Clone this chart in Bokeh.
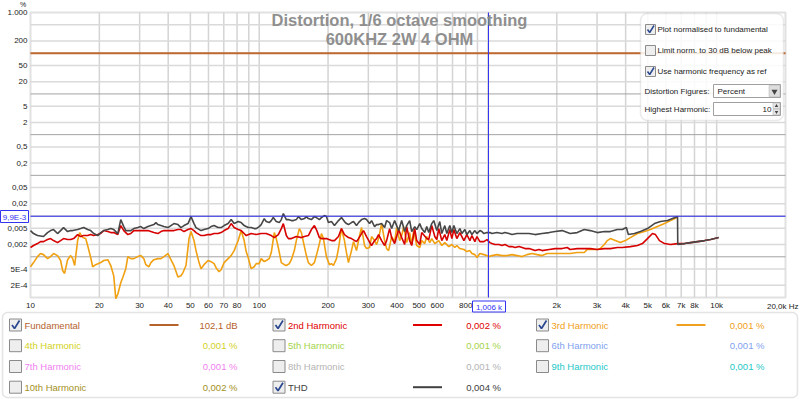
import math
from bokeh.plotting import figure
from bokeh.models import (Range1d, FixedTicker, LogAxis, BoxAnnotation, LinearScale,
                          GlobalInlineStyleSheet)
from bokeh.embed import file_html
from bokeh.resources import INLINE
from bokeh.core.properties import value

# ---------------- data ----------------
title_lines = ["Distortion, 1/6 octave smoothing", "600KHZ 2W 4 OHM"]

fund_freq = [10, 20000]
fund_pct = [100, 100]

thd_freq = [10, 10.31, 10.73, 11.40, 11.87, 12.24, 12.61, 13.13, 13.54, 13.95, 14.53, 14.98, 15.29, 16.07, 16.57,
            17.08, 17.78, 18.33, 18.89, 19.67, 20.28, 20.90, 21.77, 22.44, 23.12, 24.08, 24.81, 25.58, 26.10, 27.45,
            28.29, 29.46, 30.37, 31.30, 32.60, 33.60, 34.63, 35.34, 36.06, 37.17, 38.31, 39.89, 41.11, 42.38, 44.12,
            45.48, 46.90, 48.83, 50.33, 51.87, 52.93, 55.67, 57.38, 59.74, 61.58, 63.47, 66.10, 68.13, 70.24, 73.11,
            75.40, 77.71, 79.29, 80.91, 83.40, 85.95, 89.46, 92.24, 95.08, 97.0, 100, 102.0, 105.2, 107.3, 110.6,
            112.9, 115.2, 118.7, 122.4, 124.9, 127.5, 131.4, 134.1, 138.2, 141.0, 145.3, 148.3, 152.9, 157.6, 160.8,
            164.0, 169.1, 174.3, 177.8, 183.3, 187.1, 192.8, 196.7, 200.7, 206.9, 213.3, 222.1, 228.9, 235.9, 240.7,
            245.6, 253.2, 258.4, 266.3, 271.8, 280.2, 288.8, 294.6, 303.7, 309.9, 319.4, 326.0, 332.6, 342.8, 353.4,
            360.6, 371.7, 379.3, 390.9, 407.1, 419.6, 432.5, 441.3, 454.8, 464.2, 478.5, 488.3, 503.3, 513.5, 529.3,
            540.1, 551.1, 568.0, 579.8, 597.5, 615.8, 628.4, 647.6, 661.0, 681.3, 695.3, 709.6, 731.1, 753.8, 769.1,
            792.8, 808.9, 833.8, 850.9, 877.0, 894.9, 922.4, 941.2, 960.5, 990, 1020, 1041, 1095, 1152, 1187,
            1236, 1274, 1341, 1410, 1513, 1607, 1725, 1852, 1967, 2111, 2288, 2457, 2637, 2802, 3007,
            3227, 3428, 3680, 3869, 4030, 4111, 4370, 4642, 4983, 5348, 5681, 6098, 6412, 6745, 6760,
            7238, 7691, 8254, 8858, 9412, 10205]
thd_pct = [0.00440, 0.00372, 0.00332, 0.00314, 0.00393, 0.00440, 0.00466, 0.00372, 0.00440, 0.00522, 0.00416, 0.00440, 0.00440, 0.00466, 0.00493,
           0.00522, 0.00466, 0.00440, 0.00372, 0.00332, 0.00393, 0.00440, 0.00466, 0.00493, 0.00466, 0.00372, 0.00820, 0.00552, 0.00440, 0.00440,
           0.00493, 0.00522, 0.00552, 0.00493, 0.00552, 0.00584, 0.00618, 0.00692, 0.00618, 0.00584, 0.00552, 0.00522, 0.00584, 0.00654, 0.00618,
           0.00522, 0.00584, 0.00654, 0.00972, 0.00654, 0.00522, 0.00440, 0.00466, 0.00493, 0.00552, 0.00584, 0.00522, 0.00522, 0.00584, 0.00654,
           0.00820, 0.00654, 0.00692, 0.00733, 0.00692, 0.00584, 0.00522, 0.00522, 0.00493, 0.00493, 0.00552, 0.00618, 0.00868, 0.00733, 0.00692,
           0.00775, 0.00919, 0.00733, 0.00692, 0.00820, 0.01152, 0.00820, 0.00820, 0.00775, 0.00775, 0.00820, 0.00972, 0.00820, 0.00868, 0.00972,
           0.00868, 0.00820, 0.00972, 0.00919, 0.00820, 0.00919, 0.01029, 0.00972, 0.00692, 0.00733, 0.00584, 0.00775, 0.00919, 0.00733, 0.00654,
           0.00618, 0.00692, 0.00733, 0.00584, 0.00692, 0.00820, 0.00868, 0.00820, 0.00654, 0.00775, 0.00552, 0.00618, 0.00618, 0.00654, 0.00522,
           0.00775, 0.00692, 0.00493, 0.00775, 0.00440, 0.00775, 0.00416, 0.00584, 0.00775, 0.00416, 0.00552, 0.00466, 0.00654, 0.00493, 0.00393,
           0.00552, 0.00393, 0.00654, 0.00775, 0.00440, 0.00733, 0.00372, 0.00584, 0.00372, 0.00584, 0.00393, 0.00584, 0.00372, 0.00493, 0.00372,
           0.00466, 0.00351, 0.00440, 0.00351, 0.00440, 0.00372, 0.00440, 0.00416, 0.00372, 0.00393, 0.00393, 0.00372, 0.00393, 0.00372, 0.00393,
           0.00372, 0.00351, 0.00372, 0.00372, 0.00372, 0.00351, 0.00372, 0.00393, 0.00416, 0.00440, 0.00372, 0.00393, 0.00466, 0.00440, 0.00393,
           0.00416, 0.00416, 0.00466, 0.00466, 0.00522, 0.00351, 0.00372, 0.00416, 0.00493, 0.00654, 0.00733, 0.00775, 0.00868, 0.00972, 0.00200,
           0.00211, 0.00223, 0.00236, 0.00250, 0.00265, 0.00296]

h2_freq = [10, 10.31, 10.73, 11.06, 11.40, 11.87, 12.24, 12.61, 13.13, 13.54, 13.95, 14.53, 14.98, 15.44, 16.07,
           16.57, 17.08, 17.78, 18.33, 18.89, 19.67, 20.28, 20.90, 21.77, 22.44, 23.12, 24.08, 24.81, 25.58, 26.64,
           27.45, 28.29, 29.46, 30.37, 31.30, 32.60, 33.60, 34.63, 36.06, 37.17, 38.31, 39.89, 41.11, 42.38, 44.12,
           45.48, 46.90, 48.83, 50.33, 51.87, 52.93, 55.67, 57.38, 59.74, 61.58, 63.47, 66.10, 68.13, 70.24, 73.11,
           75.40, 77.71, 79.29, 80.91, 83.40, 85.95, 87.70, 92.24, 97.0, 102.0, 107.3, 112.9, 116.4, 121.2, 124.9,
           127.5, 131.4, 134.1, 138.2, 145.3, 152.9, 157.6, 164.0, 169.1, 174.3, 177.8, 183.3, 187.1, 196.7, 206.9,
           213.3, 222.1, 228.9, 235.9, 245.6, 253.2, 266.3, 271.8, 280.2, 285.9, 294.6, 309.9, 319.4, 326.0, 332.6,
           342.8, 353.4, 360.6, 371.7, 379.3, 390.9, 407.1, 419.6, 432.5, 441.3, 454.8, 464.2, 478.5, 488.3, 503.3,
           513.5, 540.1, 551.1, 568.0, 585.6, 597.5, 609.8, 628.4, 647.6, 661.0, 681.3, 695.3, 709.6, 731.1, 753.8,
           784.9, 808.9, 833.8, 850.9, 877.0, 894.9, 922.4, 960.5, 990, 1020, 1041, 1073, 1118, 1152, 1187,
           1236, 1274, 1314, 1368, 1410, 1453, 1513, 1560, 1607, 1674, 1725, 1852, 1967, 2111, 2221,
           2288, 2457, 2637, 2802, 3007, 3227, 3428, 3680, 3869, 4195, 4504, 4737, 4983, 5241, 5401,
           5623, 5916, 6284, 6745, 7238, 7691, 8254, 8858, 9412, 10205]
h2_pct = [0.00169, 0.00189, 0.00211, 0.00236, 0.00236, 0.00265, 0.00280, 0.00250, 0.00223, 0.00250, 0.00280, 0.00265, 0.00265, 0.00280, 0.00351,
          0.00314, 0.00332, 0.00332, 0.00351, 0.00332, 0.00351, 0.00372, 0.00440, 0.00416, 0.00393, 0.00393, 0.00351, 0.00584, 0.00440, 0.00351,
          0.00372, 0.00440, 0.00440, 0.00440, 0.00440, 0.00440, 0.00416, 0.00393, 0.00372, 0.00416, 0.00440, 0.00440, 0.00440, 0.00440, 0.00466,
          0.00466, 0.00416, 0.00466, 0.00493, 0.00440, 0.00393, 0.00332, 0.00332, 0.00351, 0.00351, 0.00372, 0.00372, 0.00393, 0.00440, 0.00493,
          0.00654, 0.00522, 0.00493, 0.00466, 0.00440, 0.00372, 0.00332, 0.00372, 0.00351, 0.00372, 0.00372, 0.00332, 0.00296, 0.00351, 0.00493,
          0.00654, 0.00332, 0.00280, 0.00280, 0.00314, 0.00296, 0.00314, 0.00332, 0.00466, 0.00584, 0.00466, 0.00296, 0.00280, 0.00280, 0.00250,
          0.00250, 0.00314, 0.00493, 0.00351, 0.00296, 0.00280, 0.00236, 0.00280, 0.00372, 0.00440, 0.00314, 0.00189, 0.00250, 0.00280, 0.00351,
          0.00250, 0.00189, 0.00250, 0.00493, 0.00296, 0.00211, 0.00466, 0.00296, 0.00200, 0.00552, 0.00250, 0.00189, 0.00493, 0.00250, 0.00200,
          0.00393, 0.00280, 0.00265, 0.00584, 0.00314, 0.00265, 0.00493, 0.00250, 0.00351, 0.00250, 0.00466, 0.00280, 0.00466, 0.00280, 0.00393,
          0.00250, 0.00351, 0.00250, 0.00332, 0.00236, 0.00314, 0.00236, 0.00236, 0.00265, 0.00223, 0.00211, 0.00200, 0.00200, 0.00189, 0.00200,
          0.00178, 0.00178, 0.00169, 0.00178, 0.00169, 0.00159, 0.00159, 0.00151, 0.00142, 0.00151, 0.00142, 0.00151, 0.00159, 0.00159, 0.00169,
          0.00151, 0.00159, 0.00159, 0.00159, 0.00151, 0.00159, 0.00159, 0.00169, 0.00169, 0.00178, 0.00189, 0.00211, 0.00280, 0.00372, 0.00351,
          0.00250, 0.00211, 0.00200, 0.00211, 0.00211, 0.00223, 0.00236, 0.00250, 0.00265, 0.00296]

h3_freq = [10, 10.31, 10.73, 11.06, 11.40, 11.87, 12.24, 12.61, 13.13, 13.54, 13.82, 14.10, 14.53, 14.98, 15.29,
           15.60, 16.07, 16.40, 16.91, 17.43, 17.78, 18.33, 18.70, 19.28, 20.28, 20.90, 21.77, 22.44, 23.12, 23.60,
           24.08, 24.81, 25.32, 26.10, 26.64, 27.45, 28.29, 29.46, 30.37, 31.30, 31.94, 32.93, 33.60, 34.63, 36.06,
           37.17, 38.31, 39.89, 41.11, 42.38, 44.12, 45.48, 46.42, 47.85, 49.32, 50.33, 51.87, 52.93, 54.56, 55.67,
           57.38, 59.74, 61.58, 63.47, 64.76, 66.75, 68.13, 70.24, 73.11, 75.40, 77.71, 79.29, 80.91, 83.40, 85.95,
           87.70, 89.46, 92.24, 95.08, 97.0, 100, 102.0, 105.2, 107.3, 110.6, 112.9, 116.4, 118.7, 121.2, 124.9,
           128.8, 131.4, 135.4, 138.2, 142.4, 145.3, 149.8, 152.9, 157.6, 160.8, 164.0, 169.1, 174.3, 177.8, 183.3,
           187.1, 190.9, 196.7, 202.8, 206.9, 211.1, 217.7, 222.1, 228.9, 235.9, 240.7, 245.6, 253.2, 258.4, 266.3,
           274.6, 280.2, 288.8, 294.6, 303.7, 309.9, 319.4, 326.0, 332.6, 342.8, 353.4, 360.6, 368.0, 379.3, 390.9,
           398.9, 411.3, 419.6, 428.2, 441.3, 454.8, 464.2, 473.6, 488.3, 503.3, 513.5, 529.3, 540.1, 556.7, 568.0,
           585.6, 609.8, 628.4, 647.6, 674.5, 695.3, 716.6, 731.1, 753.8, 784.9, 808.9, 833.8, 850.9, 877.0, 894.9,
           922.4, 960.5, 990, 1010, 1041, 1095, 1152, 1212, 1274, 1341, 1410, 1483, 1560, 1640, 1725,
           1815, 1909, 2007, 2111, 2288, 2457, 2637, 2718, 2858, 3007, 3099, 3227, 3326, 3428, 3606,
           3793, 3990, 4195, 4504, 4834, 5135, 5511, 5916, 6284, 6745]
h3_pct = [0.00057, 0.00072, 0.00101, 0.00120, 0.00113, 0.00090, 0.00101, 0.00120, 0.00107, 0.00081, 0.00046, 0.00039, 0.00085, 0.00107, 0.00090,
          0.00061, 0.00250, 0.00393, 0.00296, 0.00280, 0.00189, 0.00096, 0.00057, 0.00064, 0.00072, 0.00081, 0.00085, 0.00061, 0.00034, 0.000094,
          0.00012, 0.00023, 0.00031, 0.00051, 0.00101, 0.00090, 0.00090, 0.00101, 0.00107, 0.00090, 0.00064, 0.00057, 0.00072, 0.00085, 0.00090,
          0.00090, 0.00101, 0.00120, 0.00085, 0.00061, 0.00032, 0.00034, 0.00041, 0.00061, 0.00280, 0.00416, 0.00250, 0.00142, 0.00072, 0.00051,
          0.00064, 0.00081, 0.00076, 0.00068, 0.00054, 0.00043, 0.00048, 0.00072, 0.00090, 0.00107, 0.00142, 0.00189, 0.00250, 0.00440, 0.00250,
          0.00134, 0.00096, 0.00051, 0.00057, 0.00068, 0.00068, 0.00090, 0.00076, 0.00081, 0.00090, 0.00127, 0.00393, 0.00280, 0.00169, 0.00072,
          0.00064, 0.00061, 0.00068, 0.00085, 0.00142, 0.00250, 0.00493, 0.00393, 0.00178, 0.00107, 0.00072, 0.00061, 0.00072, 0.00107, 0.00211,
          0.00372, 0.00280, 0.00101, 0.00064, 0.00068, 0.00061, 0.00090, 0.00159, 0.00493, 0.00250, 0.00127, 0.00072, 0.00142, 0.00236, 0.00142,
          0.00332, 0.00522, 0.00189, 0.00159, 0.00169, 0.00314, 0.00250, 0.00200, 0.00280, 0.00654, 0.00250, 0.00159, 0.00142, 0.00314, 0.00236,
          0.00522, 0.00250, 0.00332, 0.00552, 0.00223, 0.00393, 0.00200, 0.00440, 0.00189, 0.00169, 0.00250, 0.00211, 0.00314, 0.00223, 0.00280,
          0.00211, 0.00250, 0.00189, 0.00223, 0.00178, 0.00200, 0.00169, 0.00189, 0.00159, 0.00151, 0.00134, 0.00142, 0.00120, 0.00113, 0.00096,
          0.00120, 0.00113, 0.00107, 0.00101, 0.00107, 0.00113, 0.00107, 0.00107, 0.00113, 0.00107, 0.00101, 0.00113, 0.00120, 0.00113, 0.00107,
          0.00120, 0.00120, 0.00120, 0.00120, 0.00120, 0.00127, 0.00127, 0.00151, 0.00151, 0.00151, 0.00159, 0.00200, 0.00250, 0.00280, 0.00250,
          0.00223, 0.00250, 0.00296, 0.00372, 0.00416, 0.00466, 0.00552, 0.00654, 0.00775, 0.00940]

cursor_freq = 1006
cursor_pct = 0.0099
cursor_freq_label = "1,006 k"
cursor_pct_label = "9,9E-3"

x_ticks = [10, 20, 30, 40, 50, 60, 70, 80, 100, 200, 300, 400, 500, 600, 800,
           2000, 3000, 4000, 5000, 6000, 7000, 8000, 10000]
x_tick_labels = ["10", "20", "30", "40", "50", "60", "70", "80", "100", "200", "300", "400", "500", "600", "800",
                 "2k", "3k", "4k", "5k", "6k", "7k", "8k", "10k"]
x_grid = [20, 30, 40, 50, 60, 70, 80, 90, 100, 200, 300, 400, 500, 600, 700, 800, 900, 1000,
          2000, 3000, 4000, 5000, 6000, 7000, 8000, 9000, 10000]
y_ticks = [1000, 200, 50, 20, 5, 2, 0.5, 0.2, 0.05, 0.02, 0.005, 0.002, 0.0005, 0.0002]
y_tick_labels = ["1.000", "200", "50", "20", "5", "2", "0,5", "0,2", "0,05", "0,02", "0,005", "0,002", "5E-4", "2E-4"]
y_decades = [100, 10, 1, 0.1, 0.01, 0.001]
y_minor = [500, 200, 50, 20, 5, 2, 0.5, 0.2, 0.05, 0.02, 0.005, 0.002, 0.0005, 0.0002]
x_limits = (10, 20000)
y_limits = (1e-4, 1000)
x_end_label = "20,0k Hz"
y_unit_label = "%"

leg_names = ["Fundamental", "2nd Harmonic", "3rd Harmonic", "4th Harmonic", "5th Harmonic", "6th Harmonic",
             "7th Harmonic", "8th Harmonic", "9th Harmonic", "10th Harmonic", "THD"]
leg_values = ["102,1 dB", "0,002 %", "0,001 %", "0,001 %", "0,001 %", "0,001 %",
              "0,001 %", "0,001 %", "0,001 %", "0,002 %", "0,004 %"]
leg_colors = ["#b5622c", "#e00000", "#f0a020", "#d2d21c", "#a4d44a", "#7f9ff0",
              "#f07ff0", "#b4b4b4", "#1ec8c8", "#a39023", "#404040"]
leg_checked = [True, True, True, False, False, False, False, False, False, False, True]

panel_opts = ["Plot normalised to fundamental", "Limit norm. to 30 dB below peak", "Use harmonic frequency as ref"]
panel_checked = [True, False, True]
panel_fields = ["Distortion Figures:", "Highest Harmonic:"]
panel_field_values = ["Percent", "10"]

# ---------------- layout constants ----------------
W, H = 800, 399
FL, FR, FT, FB = 30, 785, 12, 297          # chart area inside the canvas
FONT = value("Liberation Sans")
C_FUND, C_H2, C_H3, C_THD = "#c0692f", "#d60000", "#f0a010", "#474747"
CHECK = "#2a4890"
BLUE = "#3333f2"

x0, x1 = x_limits
y0, y1 = y_limits
dx = (FR - FL) / math.log10(x1 / x0)
dy = (FB - FT) / math.log10(y1 / y0)
x_range = Range1d(x0 / 10 ** (FL / dx), x1 * 10 ** ((W - FR) / dx))
y_range = Range1d(y0 / 10 ** ((H - FB) / dy), y1 * 10 ** (FT / dy))

p = figure(width=W, height=H, x_axis_type="log", y_axis_type="log",
           x_axis_location=None, y_axis_location=None,
           x_range=x_range, y_range=y_range, min_border=0, title=None,
           output_backend="svg", toolbar_location=None,
           background_fill_color="white", border_fill_color="white")
p.outline_line_color = None
p.xgrid.visible = False
p.ygrid.visible = False
p.extra_x_ranges = {"px": Range1d(0, W)}
p.extra_y_ranges = {"px": Range1d(H, 0)}
p.extra_x_scales = {"px": LinearScale()}
p.extra_y_scales = {"px": LinearScale()}
PX = dict(x_range_name="px", y_range_name="px")

# ---- grid lines (data coordinates) ----
p.segment(x0=x_grid, x1=x_grid, y0=[y0] * len(x_grid), y1=[y1] * len(x_grid),
          line_color="#d4d4d4", line_width=1.5)
p.segment(x0=[x0] * len(y_minor), x1=[x1] * len(y_minor), y0=y_minor, y1=y_minor,
          line_color="#dadada", line_width=1.5)
p.segment(x0=[x0] * len(y_decades), x1=[x1] * len(y_decades), y0=y_decades, y1=y_decades,
          line_color="#a4a4a4", line_width=1)

# ---- axes (real Bokeh axes pinned to the chart edges) ----
xax = LogAxis(ticker=FixedTicker(ticks=x_ticks), fixed_location=y0)
yax = LogAxis(ticker=FixedTicker(ticks=y_ticks), fixed_location=x0)
for ax in (xax, yax):
    ax.axis_line_color = None
    ax.major_tick_line_color = None
    ax.minor_tick_line_color = None
    ax.major_tick_out = 0
    ax.major_tick_in = 0
    ax.minor_tick_out = 0
    ax.minor_tick_in = 0
    ax.major_label_standoff = 3
    ax.major_label_text_font = "Liberation Sans"
    ax.major_label_text_font_size = "8px"
    ax.major_label_text_color = "#222222"
xax.major_label_overrides = dict(zip(x_ticks, x_tick_labels))
yax.major_label_overrides = dict(zip(y_ticks, y_tick_labels))
p.add_layout(xax, "below")
p.add_layout(yax, "left")

# ---- chart border ----
p.add_layout(BoxAnnotation(left=x0, right=x1, bottom=y0, top=y1, fill_color=None,
                           line_color="#9c9c9c", line_width=2, level="underlay"))

# ---- series ----
p.line(fund_freq, fund_pct, line_color=C_FUND, line_width=2)
p.line(h3_freq, h3_pct, line_color=C_H3, line_width=1.6)
p.line(h2_freq, h2_pct, line_color=C_H2, line_width=1.6)
p.line(thd_freq, thd_pct, line_color=C_THD, line_width=1.6)

# ---- cursor ----
p.segment(x0=[cursor_freq], x1=[cursor_freq], y0=[y0], y1=[y1], line_color=BLUE, line_width=1)
p.segment(x0=[x0], x1=[x1], y0=[cursor_pct], y1=[cursor_pct], line_color=BLUE, line_width=1)
p.rect(x=[14, 488.5], y=[216, 306], width=[28, 33], height=[12, 11], fill_color="white",
       line_color=BLUE, line_width=1, level="overlay", **PX)
p.text(x=[14, 488.5], y=[216.5, 306.5], text=[cursor_pct_label, cursor_freq_label], text_align="center",
       text_baseline="middle", text_font=FONT, text_font_size="8px", text_color=BLUE, level="overlay", **PX)

# unit labels
p.text(x=[22.5], y=[4], text=[y_unit_label], text_align="center", text_baseline="middle",
       text_font=FONT, text_font_size="7px", text_color="#222222", **PX)
p.text(x=[798], y=[306], text=[x_end_label], text_align="right", text_baseline="middle",
       text_font=FONT, text_font_size="8px", text_color="#222222", **PX)

# ---- chart title ----
p.text(x=[399, 399], y=[19, 38], text=title_lines, text_align="center", text_baseline="middle",
       text_font=FONT, text_font_size="16.5px", text_font_style="bold", text_color="#8f8f8f", **PX)

# ---- options panel (top right) ----
p.add_layout(BoxAnnotation(left=640, right=783, top=13, bottom=120, fill_color="white", fill_alpha=0.86,
                           line_color="#b8b8b8", line_width=1.5, border_radius=7, **PX))
opt_y = [29, 50, 71]
p.rect(x=[650] * 3, y=opt_y, width=10, height=10, fill_color="#eeeeee", line_color="#8d8d8d",
       line_width=1, level="overlay", **PX)
cx = [650 for c in panel_checked if c]
cy = [yy for yy, c in zip(opt_y, panel_checked) if c]
p.multi_line(xs=[[x - 3, x - 0.8, x + 3.5] for x in cx], ys=[[y, y + 3, y - 4] for y in cy],
             line_color=CHECK, line_width=1.5, level="overlay", **PX)
p.text(x=[657] * 3, y=opt_y, text=panel_opts, text_align="left", text_baseline="middle",
       text_font=FONT, text_font_size="8px", text_color="#222222", level="overlay", **PX)
p.text(x=[644, 644], y=[90.5, 108.5], text=panel_fields, text_align="left", text_baseline="middle",
       text_font=FONT, text_font_size="8px", text_color="#222222", level="overlay", **PX)
p.rect(x=[746.5, 746.5], y=[90.5, 108.5], width=67, height=13, fill_color="white",
       line_color="#a0a0a0", line_width=1, level="overlay", **PX)
p.rect(x=[774], y=[90.5], width=11, height=11, fill_color="#dddddd", line_color="#b0b0b0",
       line_width=0.5, level="overlay", **PX)
p.scatter(x=[774], y=[91], marker="inverted_triangle", size=6, fill_color="#444444",
          line_color=None, level="overlay", **PX)
p.rect(x=[776, 776], y=[105.2, 111.6], width=7, height=5.6, fill_color="#e6e6e6",
       line_color="#a8a8a8", line_width=0.5, level="overlay", **PX)
p.scatter(x=[776], y=[105.4], marker="triangle", size=3.5, fill_color="#444444",
          line_color=None, level="overlay", **PX)
p.scatter(x=[776], y=[111.6], marker="inverted_triangle", size=3.5, fill_color="#444444",
          line_color=None, level="overlay", **PX)
p.text(x=[717], y=[90.5], text=[panel_field_values[0]], text_align="left", text_baseline="middle",
       text_font=FONT, text_font_size="8px", text_color="#222222", level="overlay", **PX)
p.text(x=[771], y=[108.5], text=[panel_field_values[1]], text_align="right", text_baseline="middle",
       text_font=FONT, text_font_size="8px", text_color="#222222", level="overlay", **PX)

# ---- legend strip ----
p.add_layout(BoxAnnotation(left=2, right=797, top=312, bottom=397, fill_color="white",
                           line_color="#a4a4a4", line_width=1.5, border_radius=5, level="underlay", **PX))
col_off = [0, 263.5, 527]
row_y = [324.5, 345.2, 366, 386.7]
bx, by, nx, vx, lx0, lx1, lcol, ccx, ccy = [], [], [], [], [], [], [], [], []
for i, name in enumerate(leg_names):
    r, c = divmod(i, 3)
    off, yy = col_off[c], row_y[r]
    bx.append(15 + off); by.append(yy)
    nx.append(24 + off)
    vx.append(237 + off)
    if leg_checked[i]:
        lx0.append(149 + off); lx1.append(178 + off); lcol.append(leg_colors[i])
        ccx.append(15 + off); ccy.append(yy)

p.rect(x=bx, y=by, width=12, height=12, fill_color="#eeeeee", line_color="#8a8a8a", line_width=1, **PX)
p.multi_line(xs=[[x - 3.5, x - 1, x + 4] for x in ccx], ys=[[y, y + 3.5, y - 4.5] for y in ccy],
             line_color=CHECK, line_width=1.7, **PX)
p.text(x=nx, y=by, text=leg_names, text_color=leg_colors, text_align="left", text_baseline="middle",
       text_font=FONT, text_font_size="9.5px", **PX)
p.text(x=vx, y=by, text=leg_values, text_color=leg_colors, text_align="right", text_baseline="middle",
       text_font=FONT, text_font_size="9.5px", **PX)
p.segment(x0=lx0, x1=lx1, y0=ccy, y1=ccy, line_color=lcol, line_width=2, **PX)

p.stylesheets = [GlobalInlineStyleSheet(css="html, body { margin: 0 !important; padding: 0; }")]

open("out.html", "w").write(file_html(p, INLINE))
